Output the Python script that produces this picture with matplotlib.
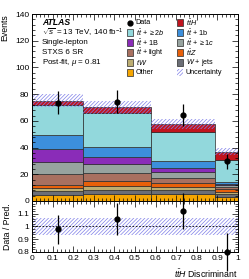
import numpy as np
import matplotlib
matplotlib.use("Agg")
import matplotlib.pyplot as plt
from matplotlib.patches import Rectangle
from matplotlib.ticker import MultipleLocator, AutoMinorLocator, FormatStrFormatter

plt.rcParams['font.family'] = ['Liberation Sans', 'DejaVu Sans']
plt.rcParams['mathtext.fontset'] = 'custom'
plt.rcParams['mathtext.rm'] = 'Liberation Sans'
plt.rcParams['mathtext.it'] = 'Liberation Sans:italic'
plt.rcParams['mathtext.bf'] = 'Liberation Sans:bold'
plt.rcParams['hatch.linewidth'] = 0.5

# bin edges of the discriminant
edges = [0.0, 0.25, 0.58, 0.89, 1.0]

# post-fit yields per bin (bottom of stack first)
other = [4.5, 5.0, 5.0, 3.0]
wjets = [3.0, 3.2, 3.2, 2.5]
tw = [2.5, 3.0, 2.5, 1.5]
ttz = [1.7, 3.5, 3.0, 1.8]
tt_light = [8.5, 6.0, 3.3, 1.5]
tt_1c = [9.0, 6.8, 4.5, 1.3]
tt_1B = [10.0, 5.2, 3.0, 1.2]
tt_1b = [10.0, 8.0, 5.7, 1.5]
tt_2b = [22.5, 25.0, 21.7, 16.2]
tth = [3.5, 4.4, 5.5, 6.4]

data = [73.5, 74.3, 64.4, 29.6]
rel_unc = [0.066, 0.066, 0.066, 0.066]

samples = [
    ('Other', other, '#f5a500'),
    (r'$W$ + jets', wjets, '#6b6e76'),
    (r'$tW$', tw, '#bcad72'),
    (r'$t\bar{t}Z$', ttz, '#e8600a'),
    (r'$t\bar{t}$ + light', tt_light, '#a87060'),
    (r'$t\bar{t}$ + $\geq 1c$', tt_1c, '#97a39f'),
    (r'$t\bar{t}$ + 1B', tt_1B, '#8a2cb8'),
    (r'$t\bar{t}$ + 1b', tt_1b, '#3c8fdc'),
    (r'$t\bar{t}$ + $\geq 2b$', tt_2b, '#92d8dc'),
    (r'$t\bar{t}H$', tth, '#c0141e'),
]
colors = {name: col for name, _, col in samples}

edges = np.array(edges)
widths = np.diff(edges)
centers = 0.5 * (edges[:-1] + edges[1:])
data = np.array(data)

fig = plt.figure(figsize=(2.49, 2.79), dpi=100)
ax = fig.add_axes([0.1285, 0.2796, 0.8273, 0.6702])
rax = fig.add_axes([0.1285, 0.0968, 0.8273, 0.1828], sharex=ax)

bottom = np.zeros(len(centers))
for name, vals, col in samples:
    vals = np.array(vals)
    ax.bar(edges[:-1], vals, width=widths, bottom=bottom, align='edge',
           color=col, edgecolor='#2b2b2b', linewidth=0.5)
    bottom = bottom + vals
total = bottom

hatch_kw = dict(fill=False, hatch='/////////', edgecolor='#8080e8', linewidth=0)
unc = total * np.array(rel_unc)
ax.bar(edges[:-1], 2 * unc, width=widths, bottom=total - unc, align='edge', **hatch_kw)

ax.errorbar(centers, data, yerr=np.sqrt(data), fmt='o', color='black',
            markersize=3.5, elinewidth=0.9, capsize=0)

ax.set_xlim(0, 1)
ax.set_ylim(0, 140)
ax.yaxis.set_major_locator(MultipleLocator(20))
ax.yaxis.set_minor_locator(AutoMinorLocator(5))
ax.set_ylabel('Events', loc='top', fontsize=6.3)
plt.setp(ax.get_xticklabels(), visible=False)

# label block
row0, dy = 0.953, 0.0535
ax.text(0.047, row0, 'ATLAS', transform=ax.transAxes, fontsize=6.2,
        fontweight='bold', fontstyle='italic', va='center')
info = [r'$\sqrt{s}$ = 13 TeV, 140 fb$^{-1}$', 'Single-lepton', 'STXS 6 SR',
        r'Post-fit, $\mu$ = 0.81']
for i, line in enumerate(info):
    ax.text(0.047, row0 - dy * (i + 1), line, transform=ax.transAxes,
            fontsize=5.8, va='center')

# legend, two columns drawn by hand so rows line up with the label block
col1 = ['Data', r'$t\bar{t}$ + $\geq 2b$', r'$t\bar{t}$ + 1B',
        r'$t\bar{t}$ + light', r'$tW$', 'Other']
col2 = [r'$t\bar{t}H$', r'$t\bar{t}$ + 1b', r'$t\bar{t}$ + $\geq 1c$',
        r'$t\bar{t}Z$', r'$W$ + jets', 'Uncertainty']
box_w, box_h = 0.032, 0.036
for xh, names in [(0.460, col1), (0.702, col2)]:
    for i, name in enumerate(names):
        y = row0 - dy * i
        if name == 'Data':
            ax.plot([xh + box_w / 2], [y], 'o', color='black', markersize=3.5,
                    transform=ax.transAxes, clip_on=False)
        elif name == 'Uncertainty':
            ax.add_patch(Rectangle((xh, y - box_h / 2), box_w, box_h,
                                   transform=ax.transAxes, **hatch_kw))
        else:
            ax.add_patch(Rectangle((xh, y - box_h / 2), box_w, box_h,
                                   transform=ax.transAxes, facecolor=colors[name],
                                   edgecolor='#2b2b2b', linewidth=0.5))
        ax.text(xh + box_w + 0.012, y, name, transform=ax.transAxes,
                fontsize=5.2, va='center')

ratio = data / total
ratio_err = np.sqrt(data) / total
rax.bar(edges[0], 2 * rel_unc[0], width=1.0, bottom=1 - rel_unc[0], align='edge', **hatch_kw)
rax.axhline(1, color='black', linestyle=(0, (2, 2)), linewidth=0.6)
rax.errorbar(centers, ratio, yerr=ratio_err, fmt='o', color='black',
             markersize=3.5, elinewidth=0.9, capsize=0, clip_on=False)

rax.set_ylim(0.8, 1.2)
rax.set_xlim(0, 1)
rax.yaxis.set_major_locator(MultipleLocator(0.1))
rax.yaxis.set_minor_locator(AutoMinorLocator(5))
rax.yaxis.set_major_formatter(FormatStrFormatter('%g'))
rax.set_yticks([0.8, 0.9, 1.0, 1.1])
rax.xaxis.set_major_locator(MultipleLocator(0.1))
rax.xaxis.set_major_formatter(FormatStrFormatter('%g'))
rax.xaxis.set_minor_locator(AutoMinorLocator(5))
rax.set_ylabel('Data / Pred.', fontsize=6.3)
rax.set_xlabel(r'$t\bar{t}H$ Discriminant', loc='right', fontsize=6.3)

for a in (ax, rax):
    a.tick_params(which='both', direction='in', top=True, right=True,
                  labelsize=6, width=0.5, pad=2)
    a.tick_params(which='major', length=4)
    a.tick_params(which='minor', length=2)
    for s in a.spines.values():
        s.set_linewidth(0.7)

fig.savefig('out.png', dpi=100)
